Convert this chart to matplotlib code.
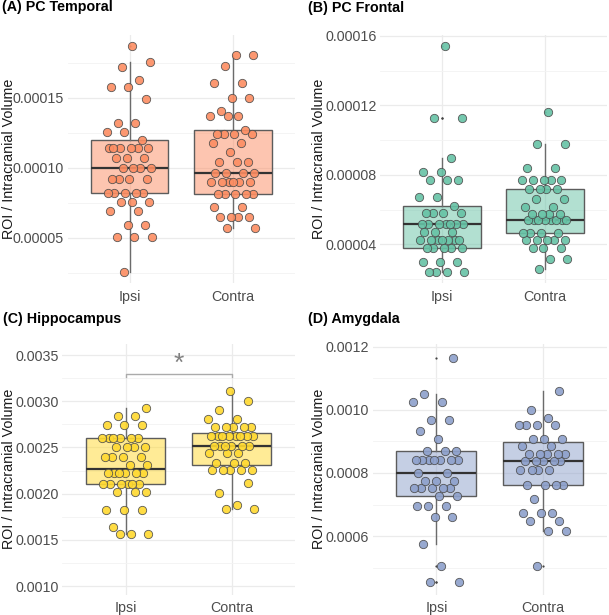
import numpy as np
import matplotlib
matplotlib.use("Agg")
import matplotlib.pyplot as plt
from matplotlib.ticker import FixedLocator, FormatStrFormatter

plt.rcParams['font.family'] = ['Liberation Sans', 'DejaVu Sans']

groups = ["Ipsi", "Contra"]
ylabel = "ROI / Intracranial Volume"

# values (ROI / intracranial volume)
temporal_ipsi = [0.0000258, 0.0000505, 0.0000505, 0.0000505, 0.0000593, 0.0000593,
                 0.000069, 0.000069, 0.0000756, 0.0000756, 0.0000756,
                 0.000082, 0.000082, 0.000082, 0.000082, 0.000082,
                 0.0000923, 0.0000923, 0.0000923, 0.0000923,
                 0.0001, 0.0001, 0.0001, 0.0001, 0.000107, 0.000107, 0.000107,
                 0.000114, 0.000114, 0.000114, 0.000114, 0.000114, 0.000114,
                 0.00012, 0.000126, 0.000126, 0.000132, 0.000132, 0.000149,
                 0.000158, 0.000158, 0.000163, 0.000172, 0.000176, 0.000187]
temporal_contra = [0.0000569, 0.0000569, 0.0000648, 0.0000648, 0.0000648, 0.0000648,
                   0.000072, 0.000072, 0.0000813, 0.0000813, 0.0000813, 0.0000813, 0.0000813,
                   0.00009, 0.00009, 0.00009, 0.00009, 0.00009, 0.00009,
                   0.0000965, 0.0000965, 0.0000965, 0.0000965,
                   0.000104, 0.000104, 0.000104, 0.000111, 0.000118, 0.000118,
                   0.000124, 0.000124, 0.000124, 0.000124, 0.000127,
                   0.000137, 0.000137, 0.000137, 0.000141, 0.00015, 0.00015,
                   0.000161, 0.000161, 0.000173, 0.000181, 0.000181]

frontal_ipsi = [0.0000243, 0.0000243, 0.0000243, 0.0000243, 0.00003, 0.00003, 0.00003,
                0.000038, 0.000038, 0.000038, 0.000038, 0.000038,
                0.0000425, 0.0000425, 0.0000425, 0.0000425, 0.0000425, 0.0000425, 0.0000425,
                0.0000473, 0.0000473, 0.0000473,
                0.0000515, 0.0000515, 0.0000515, 0.0000515, 0.0000515, 0.0000515, 0.0000515,
                0.0000578, 0.0000578, 0.0000578, 0.0000578, 0.0000621,
                0.0000674, 0.0000674, 0.000077, 0.000077, 0.000077,
                0.0000818, 0.0000818, 0.00009, 0.0001125, 0.0001125, 0.000154]
frontal_contra = [0.0000256, 0.0000314, 0.0000314, 0.0000377, 0.0000377, 0.0000377,
                  0.0000425, 0.0000425, 0.0000425, 0.0000425, 0.0000425,
                  0.0000465, 0.0000465, 0.0000465, 0.0000465,
                  0.000054, 0.000054, 0.000054, 0.000054, 0.000054, 0.000054, 0.000054, 0.000054,
                  0.0000575, 0.0000575, 0.0000575, 0.0000575, 0.0000613, 0.0000613,
                  0.0000659, 0.0000659, 0.0000718, 0.0000718, 0.0000718, 0.0000718,
                  0.000077, 0.000077, 0.000077, 0.000077, 0.000077,
                  0.0000841, 0.0000841, 0.0000977, 0.0000977, 0.0001163]

hippo_ipsi = [0.001565, 0.001565, 0.001565, 0.001641, 0.001822, 0.001822, 0.001822,
              0.002022, 0.002022, 0.002022,
              0.0021, 0.0021, 0.0021, 0.0021, 0.0021, 0.0021,
              0.002221, 0.002221, 0.002221, 0.002221, 0.002221, 0.002221,
              0.002308, 0.002308, 0.0024, 0.0024, 0.0024, 0.0024,
              0.0025, 0.0025, 0.0025, 0.0025,
              0.0026, 0.0026, 0.0026, 0.0026, 0.0026, 0.0026,
              0.002746, 0.002746, 0.002746, 0.002837, 0.002837, 0.002928]
hippo_contra = [0.001837, 0.001837, 0.001877, 0.002011, 0.00212,
                0.002254, 0.002254, 0.002254, 0.002254, 0.002254,
                0.00233, 0.00233, 0.00233, 0.002438, 0.002438, 0.002438,
                0.002518, 0.002518, 0.002518, 0.002518, 0.002518, 0.002518,
                0.002627, 0.002627, 0.002627, 0.002627, 0.002627, 0.002627, 0.002627, 0.002627,
                0.002725, 0.002725, 0.002725, 0.002725, 0.002725,
                0.002808, 0.002808, 0.00291, 0.003, 0.003116]

amyg_ipsi = [0.000454, 0.000454, 0.000506, 0.000575, 0.000661, 0.000661,
             0.000696, 0.000696, 0.000696, 0.000728, 0.000728,
             0.000751, 0.000751, 0.000751, 0.000751, 0.000751,
             0.000774, 0.000774, 0.000774, 0.0008, 0.0008,
             0.00084, 0.00084, 0.00084, 0.00084, 0.00084, 0.00084, 0.00084,
             0.000868, 0.000868, 0.000868, 0.000906, 0.000932, 0.000969, 0.000969,
             0.001026, 0.001026, 0.001051, 0.001164]
amyg_contra = [0.000506, 0.000616, 0.000616, 0.000647, 0.000647,
               0.000674, 0.000674, 0.000674, 0.000719,
               0.000761, 0.000761, 0.000761, 0.000761,
               0.000808, 0.000808, 0.000808, 0.000808,
               0.000837, 0.000837, 0.000837, 0.000837, 0.000837,
               0.000861, 0.000861, 0.000861, 0.000861, 0.000861,
               0.000885, 0.000885, 0.000908, 0.000908, 0.000908,
               0.000953, 0.000953, 0.000953, 0.000953, 0.000974, 0.000998, 0.001058]

titles = ["(A) PC Temporal", "(B) PC Frontal", "(C) Hippocampus", "(D) Amygdala"]
colors = ["#FC8D62", "#66C2A5", "#FFD92F", "#8DA0CB"]

W, H = 609, 615
fig = plt.figure(figsize=(W / 100, H / 100), dpi=100)


def px_axes(l, t, r, b):
    return fig.add_axes([l / W, 1 - b / H, (r - l) / W, (b - t) / H])


def jitter(n, width=0.22):
    # evenly spread horizontal offsets (golden ratio sequence)
    return (((np.arange(n) * 0.6180339887 + 0.37) % 1.0) - 0.5) * 2 * width


def panel(ax, data, color, ylim, major, fmt):
    ax.boxplot(data, positions=[1, 2], widths=0.75, patch_artist=True,
               boxprops=dict(facecolor=color + "80", edgecolor="#5c5c5c", linewidth=1.0),
               medianprops=dict(color="#333333", linewidth=1.6),
               whiskerprops=dict(color="#6b6b6b", linewidth=1.0),
               capprops=dict(linewidth=0),
               flierprops=dict(marker="o", markersize=1.6, markerfacecolor="#444444",
                               markeredgecolor="none"),
               zorder=2)
    for i, vals in enumerate(data):
        vals = np.asarray(vals)
        ax.scatter(1 + i + jitter(len(vals)), vals, s=36, color=color, alpha=0.9,
                   edgecolor="#4a4a4a", linewidth=0.6, zorder=3)
    ax.set_xlim(0.4, 2.6)
    ax.set_ylim(*ylim)
    ax.set_xticks([1, 2])
    ax.set_xticklabels(groups)
    ax.yaxis.set_major_locator(FixedLocator(major))
    step = major[1] - major[0]
    minor = [m - step / 2 for m in major] + [major[-1] + step / 2]
    ax.yaxis.set_minor_locator(FixedLocator(minor))
    ax.yaxis.set_major_formatter(FormatStrFormatter(fmt))
    ax.grid(True, which="major", color="#EBEBEB", linewidth=0.9, zorder=0)
    ax.grid(True, which="minor", axis="y", color="#F3F3F3", linewidth=0.6, zorder=0)
    ax.set_axisbelow(True)
    for s in ax.spines.values():
        s.set_visible(False)
    ax.tick_params(which="both", length=0, labelsize=10.3, labelcolor="#4D4D4D")
    ax.tick_params(axis="y", pad=2.5)
    ax.tick_params(axis="x", pad=5)


# panel placement in pixels: left, top, right, bottom
boxes = [(67.5, 35, 295, 283), (380, 35, 607, 283),
         (62, 343.5, 295.3, 594.5), (372.5, 343.5, 606.7, 594.5)]
datasets = [[temporal_ipsi, temporal_contra], [frontal_ipsi, frontal_contra],
            [hippo_ipsi, hippo_contra], [amyg_ipsi, amyg_contra]]
limits = [(0.0000177, 0.000195), (0.0000178, 0.0001605),
          (0.000908, 0.003625), (0.000415, 0.00121)]
majors = [[0.00005, 0.00010, 0.00015], [0.00004, 0.00008, 0.00012, 0.00016],
          [0.0010, 0.0015, 0.0020, 0.0025, 0.0030, 0.0035], [0.0006, 0.0008, 0.0010, 0.0012]]
fmts = ["%.5f", "%.5f", "%.4f", "%.4f"]
title_pos = [(2, 7.5), (308.3, 8), (2.7, 319), (308.3, 319)]
ylabel_x = [8.7, 318.8, 8.7, 318.8]

axes = []
for k in range(4):
    l, t, r, b = boxes[k]
    ax = px_axes(l, t, r, b)
    panel(ax, datasets[k], colors[k], limits[k], majors[k], fmts[k])
    axes.append(ax)
    fig.text(title_pos[k][0] / W, 1 - title_pos[k][1] / H, titles[k],
             fontsize=10.3, fontweight="bold", color="black", ha="left", va="center")
    fig.text(ylabel_x[k] / W, 1 - (t + b) / 2 / H, ylabel, rotation=90,
             fontsize=10.3, color="#1a1a1a", ha="center", va="center")

# significance bracket for hippocampus
axc = axes[2]
axc.plot([1, 1, 2, 2], [0.00326, 0.0033, 0.0033, 0.00326], color="#ABABAB",
         linewidth=1.0, zorder=4)
axc.text(1.5, 0.00333, "*", fontsize=19, color="#808080", ha="center", va="baseline")

fig.savefig("out.png", dpi=100)
